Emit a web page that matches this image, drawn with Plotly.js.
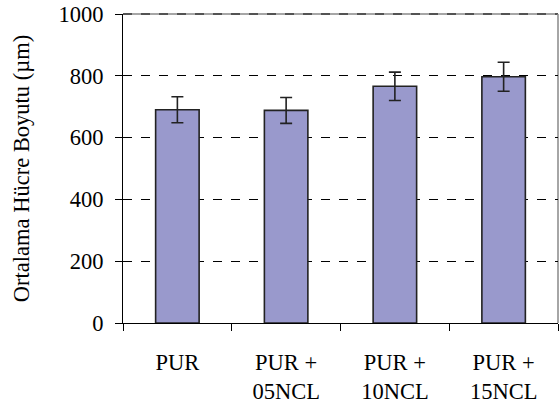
<!DOCTYPE html>
<html><head><meta charset="utf-8">
<script src="https://cdn.plot.ly/plotly-3.0.1.min.js"></script>
<style>html,body{margin:0;padding:0;background:#fff}</style>
</head><body>
<div id="chart" style="width:559px;height:405px"></div>
<script>
const categories = ["PUR", "PUR +<br>05NCL", "PUR +<br>10NCL", "PUR +<br>15NCL"];
const meanSize = [690, 688, 766, 797];
const errSize = [42, 42, 46, 47];
const yTicks = [0, 200, 400, 600, 800, 1000];

const font = {family: "Liberation Serif, Times New Roman, serif", size: 22.5, color: "#000"};

Plotly.newPlot("chart", [{
  type: "bar",
  x: categories,
  y: meanSize,
  width: 0.4,
  marker: {color: "#9999CC", line: {color: "#222", width: 1.6}},
  error_y: {type: "data", array: errSize, visible: true, color: "#222", thickness: 1.6, width: 6}
}], {
  width: 559, height: 405,
  margin: {l: 123, r: 1, t: 14, b: 82},
  paper_bgcolor: "#fff", plot_bgcolor: "#fff",
  font: font,
  showlegend: false,
  xaxis: {
    showline: true, linecolor: "#000", linewidth: 1,
    ticks: "outside", tickson: "boundaries", ticklen: 7, tickcolor: "#000",
    tickfont: font, showgrid: false, zeroline: false,
    ticklabelstandoff: 19,
    range: [-0.5, 3.5]
  },
  yaxis: {
    range: [0, 1000], tickvals: yTicks, ticktext: yTicks.map(String),
    showline: true, linecolor: "#000", linewidth: 1,
    ticks: "outside", ticklen: 7, tickcolor: "#000",
    tickfont: font, ticklabelstandoff: 7,
    showgrid: true, gridcolor: "#000", gridwidth: 1, griddash: "dash",
    zeroline: false,
    title: {text: "Ortalama Hücre Boyutu (µm)", font: font, standoff: 22}
  },
  shapes: [
    {type: "line", xref: "paper", yref: "paper", x0: 0, x1: 1, y0: 1, y1: 1, line: {color: "#888", width: 1.5}, layer: "below"},
    {type: "line", xref: "paper", yref: "paper", x0: 0, x1: 1, y0: 1, y1: 1, line: {color: "#000", width: 1, dash: "dash"}, layer: "below"},
    {type: "line", xref: "paper", yref: "paper", x0: 1, x1: 1, y0: 0, y1: 1, line: {color: "#888", width: 1.5}, layer: "below"}
  ]
}, {displayModeBar: false, staticPlot: true});
</script>
</body></html>
